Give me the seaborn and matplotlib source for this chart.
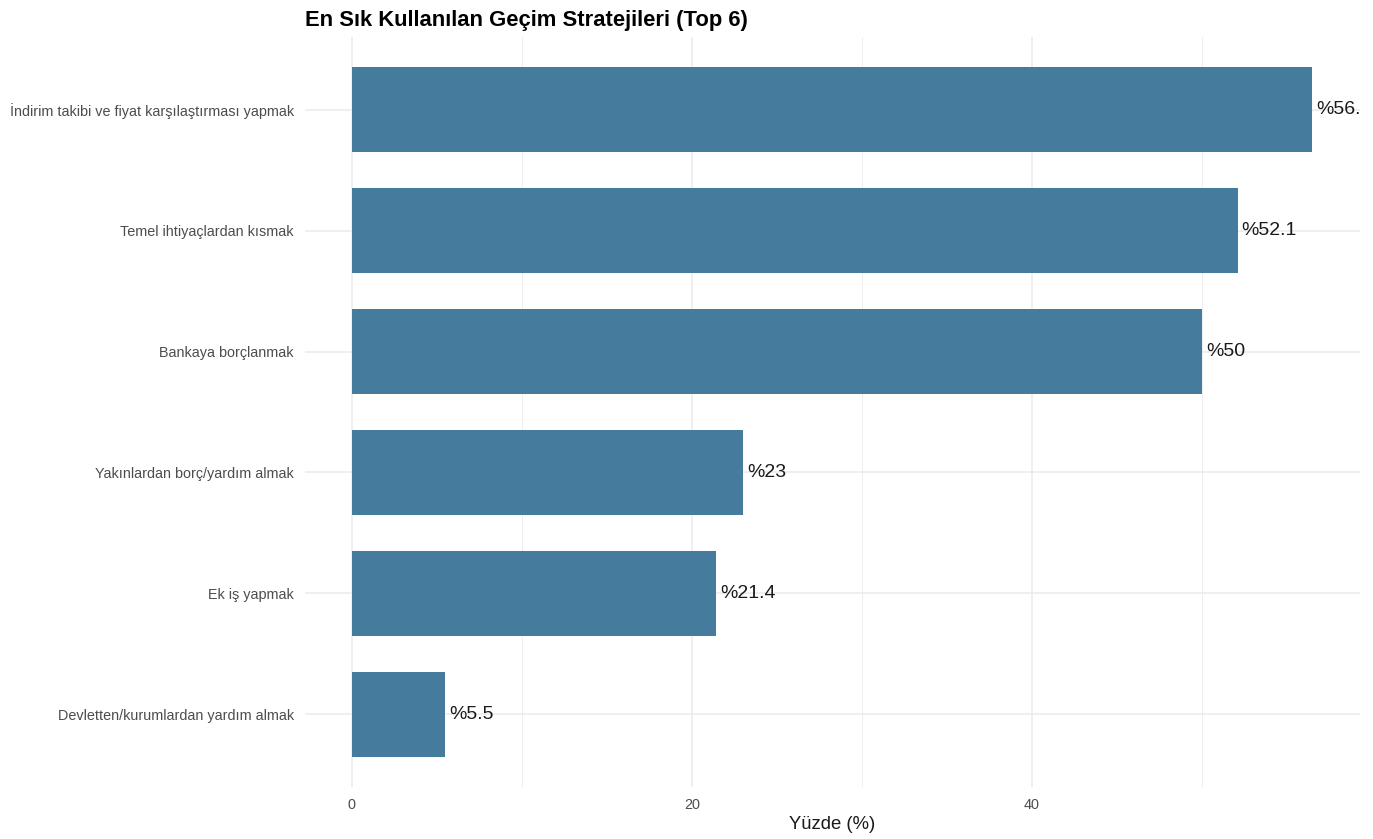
import matplotlib
matplotlib.use("Agg")
import matplotlib.pyplot as plt
from matplotlib.ticker import MultipleLocator
import seaborn as sns
import pandas as pd

# data
strategies = [
    "İndirim takibi ve fiyat karşılaştırması yapmak",
    "Temel ihtiyaçlardan kısmak",
    "Bankaya borçlanmak",
    "Yakınlardan borç/yardım almak",
    "Ek iş yapmak",
    "Devletten/kurumlardan yardım almak",
]
percentages = [56.5, 52.1, 50.0, 23.0, 21.4, 5.5]

bar_color = "#457B9D"
grid_color = "#EBEBEB"

sns.set_theme(style="white")
plt.rcParams["font.family"] = ["Liberation Sans", "DejaVu Sans"]

df = pd.DataFrame({"strateji": strategies, "yuzde": percentages})

fig = plt.figure(figsize=(13.73, 8.39), dpi=100)
ax = fig.add_axes([0.2221, 0.062, 0.7684, 0.8939])

sns.barplot(data=df, x="yuzde", y="strateji", order=strategies,
            color=bar_color, width=0.7, saturation=1, linewidth=0,
            ax=ax, zorder=3)

# value labels, clipped at the panel edge like the original
for i, v in enumerate(df["yuzde"]):
    ax.annotate(f"%{v:g}", xy=(v, i), xytext=(3, 0), textcoords="offset points",
                ha="left", va="center", fontsize=14, color="#1a1a1a",
                annotation_clip=False, clip_on=True, zorder=4)

ax.set_xlim(-2.76, 59.3)
ax.set_ylim(len(strategies) - 0.4, -0.6)

ax.xaxis.set_major_locator(MultipleLocator(20))
ax.xaxis.set_minor_locator(MultipleLocator(10))
ax.grid(True, which="major", axis="both", color=grid_color, linewidth=1.1, zorder=0)
ax.grid(True, which="minor", axis="x", color=grid_color, linewidth=0.6, zorder=0)
ax.set_axisbelow(True)

for s in ax.spines.values():
    s.set_visible(False)
ax.tick_params(axis="both", which="both", length=0, colors="#4d4d4d", labelsize=10.4)
ax.tick_params(axis="y", pad=8)
ax.tick_params(axis="x", pad=8)

ax.set_ylabel("")
ax.set_xlabel("Yüzde (%)", fontsize=13.3, color="#1a1a1a", labelpad=3)
ax.set_title("En Sık Kullanılan Geçim Stratejileri (Top 6)", fontsize=15.8,
             fontweight="bold", loc="left", pad=8, color="#000000")

fig.savefig("out.png", dpi=100, facecolor="white")
